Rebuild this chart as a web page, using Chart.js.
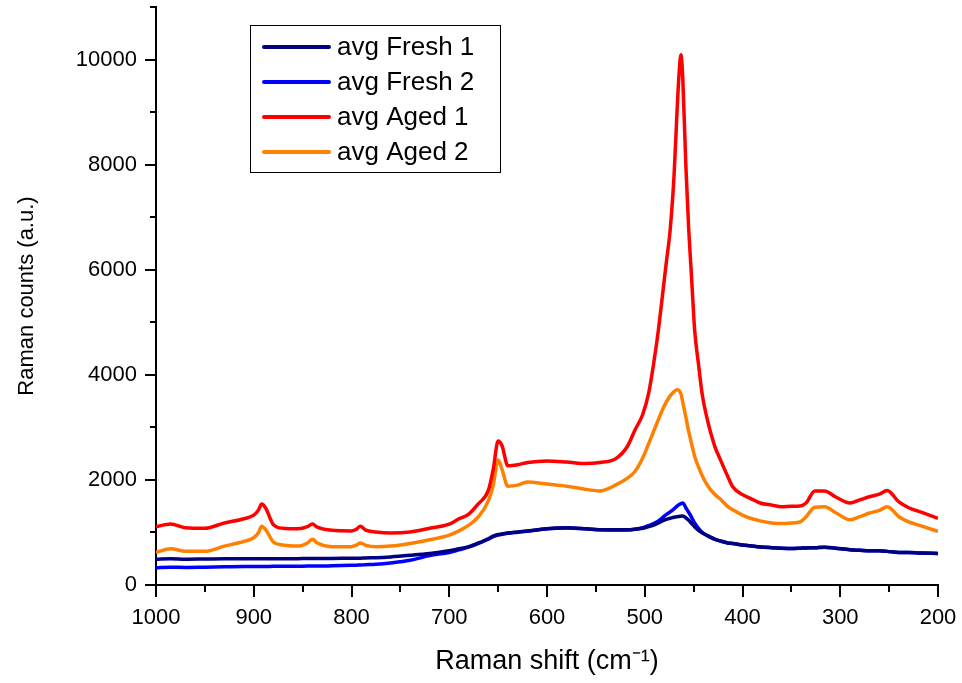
<!DOCTYPE html>
<html>
<head>
<meta charset="utf-8">
<script src="https://cdn.jsdelivr.net/npm/chart.js@4.4.1/dist/chart.umd.min.js"></script>
<style>
  html, body { margin: 0; padding: 0; background: #fff; }
  #wrap { width: 962px; height: 683px; position: relative; }
</style>
</head>
<body>
<div id="wrap"><canvas id="ramanChart"></canvas></div>
<script>
// Raman shift positions (cm-1) shared by all spectra
const shift = [
  1000, 985, 970, 950, 930, 910, 900, 895, 892, 888,
  880, 870, 855, 845, 840, 835, 820, 800, 795, 791,
  786, 775, 760, 740, 720, 700,
  690, 680, 670, 660, 655, 650, 646, 640, 630, 620,
  600, 580, 560, 546, 530, 518, 510, 502, 496, 491,
  486, 482, 478, 474, 470, 467, 465, 463, 461, 458,
  455, 453, 451, 449, 445, 441, 436, 433, 428, 423,
  415, 410, 400, 392, 382, 370, 360, 350, 341, 335,
  326, 316, 305, 290, 280, 270, 260, 252, 240, 230,
  218, 200];

const fresh1 = [
  490, 500, 490, 495, 500, 500, 500, 500, 500, 500,
  500, 500, 500, 505, 505, 505, 505, 510, 510, 510,
  515, 520, 535, 565, 600, 650,
  690, 730, 800, 880, 930, 960, 970, 990, 1010, 1030,
  1070, 1090, 1070, 1050, 1050, 1050, 1060, 1080, 1110, 1140,
  1180, 1220, 1250, 1270, 1290, 1300, 1305, 1310, 1315, 1280,
  1230, 1190, 1150, 1110, 1040, 990, 940, 910, 870, 840,
  800, 790, 760, 745, 725, 710, 700, 695, 700, 705,
  710, 720, 700, 670, 660, 650, 650, 640, 620, 620,
  610, 600];

const fresh2 = [
  330, 340, 335, 340, 345, 350, 350, 350, 350, 350,
  355, 355, 355, 360, 360, 360, 365, 375, 378, 380,
  385, 395, 420, 470, 560, 620,
  670, 720, 790, 870, 920, 950, 965, 985, 1005, 1025,
  1070, 1085, 1070, 1050, 1045, 1045, 1060, 1090, 1130, 1170,
  1220, 1280, 1340, 1390, 1450, 1500, 1530, 1550, 1560, 1470,
  1380, 1320, 1250, 1180, 1080, 1000, 940, 910, 870, 840,
  800, 790, 760, 745, 725, 710, 700, 695, 700, 705,
  710, 720, 700, 670, 660, 650, 650, 640, 620, 620,
  610, 600];

const aged1 = [
  1110, 1160, 1090, 1080, 1180, 1260, 1330, 1430, 1540, 1470,
  1150, 1080, 1070, 1110, 1160, 1100, 1040, 1030, 1060, 1120,
  1050, 1010, 990, 1010, 1080, 1160,
  1260, 1350, 1550, 1800, 2200, 2740, 2650, 2270, 2290, 2330,
  2360, 2340, 2310, 2330, 2400, 2630, 2950, 3250, 3650, 4200,
  4860, 5490, 6130, 6760, 7800, 9000, 9700, 10090, 9600, 8000,
  6760, 6130, 5490, 4860, 4200, 3600, 3150, 2930, 2620, 2400,
  2060, 1870, 1720, 1650, 1560, 1520, 1490, 1500, 1505, 1560,
  1790, 1790, 1680, 1560, 1620, 1680, 1730, 1800, 1580, 1470,
  1390, 1270];

const aged2 = [
  620, 690, 640, 640, 740, 830, 900, 1000, 1120, 1060,
  820, 760, 740, 800, 870, 800, 730, 730, 760, 800,
  760, 730, 740, 790, 860, 950,
  1030, 1140, 1300, 1600, 1900, 2380, 2200, 1880, 1900, 1960,
  1920, 1880, 1820, 1790, 1900, 2030, 2160, 2420, 2690, 2920,
  3150, 3330, 3480, 3600, 3680, 3715, 3700, 3640, 3470, 3200,
  2920, 2760, 2600, 2450, 2250, 2070, 1900, 1820, 1720, 1640,
  1490, 1430, 1330, 1270, 1220, 1180, 1170, 1180, 1200, 1300,
  1480, 1490, 1380, 1240, 1300, 1370, 1420, 1490, 1300, 1200,
  1130, 1020];

const seriesNames = ['avg Fresh 1', 'avg Fresh 2', 'avg Aged 1', 'avg Aged 2'];
const seriesColors = ['#000080', '#0000ff', '#ff0000', '#ff8000'];
const xTickLabels = [1000, 900, 800, 700, 600, 500, 400, 300, 200];
const yTickLabels = [0, 2000, 4000, 6000, 8000, 10000];

const fontFamily = '"Liberation Sans", Arial, sans-serif';

function toPoints(values) {
  return values.map((v, i) => ({ x: shift[i], y: v }));
}

// outward major/minor ticks, Origin style
const tickMarks = {
  id: 'tickMarks',
  afterDraw(chart) {
    const ctx = chart.ctx;
    const xs = chart.scales.x, ys = chart.scales.y;
    const area = chart.chartArea;
    ctx.save();
    ctx.strokeStyle = '#000';
    ctx.lineWidth = 2;
    xs.ticks.forEach(t => {
      const px = Math.round(xs.getPixelForValue(t.value));
      const len = xTickLabels.includes(t.value) ? 12 : 7;
      ctx.beginPath();
      ctx.moveTo(px, area.bottom);
      ctx.lineTo(px, area.bottom + len);
      ctx.stroke();
    });
    ys.ticks.forEach(t => {
      const py = Math.round(ys.getPixelForValue(t.value));
      const len = yTickLabels.includes(t.value) ? 11 : 6;
      ctx.beginPath();
      ctx.moveTo(area.left, py);
      ctx.lineTo(area.left - len, py);
      ctx.stroke();
    });
    ctx.restore();
  }
};

// boxed legend inside the plot, upper left
const boxLegend = {
  id: 'boxLegend',
  afterDraw(chart) {
    const ctx = chart.ctx;
    const area = chart.chartArea;
    const bx = area.left + 94, by = area.top + 18, bw = 250, bh = 147;
    ctx.save();
    ctx.fillStyle = '#fff';
    ctx.fillRect(bx, by, bw, bh);
    ctx.strokeStyle = '#000';
    ctx.lineWidth = 1;
    ctx.strokeRect(bx + 0.5, by + 0.5, bw, bh);
    ctx.font = '26px ' + fontFamily;
    ctx.textBaseline = 'middle';
    chart.data.datasets.forEach((ds, i) => {
      const cy = by + 22 + i * 35;
      ctx.strokeStyle = ds.borderColor;
      ctx.lineWidth = 4;
      ctx.lineCap = 'round';
      ctx.beginPath();
      ctx.moveTo(bx + 14, cy);
      ctx.lineTo(bx + 79, cy);
      ctx.stroke();
      ctx.fillStyle = '#000';
      ctx.fillText(ds.label, bx + 87, cy + 1);
    });
    ctx.restore();
  }
};

const ctx = document.getElementById('ramanChart');

new Chart(ctx, {
  type: 'line',
  data: {
    datasets: seriesNames.map((name, i) => ({
      label: name,
      data: toPoints([fresh1, fresh2, aged1, aged2][i]),
      borderColor: seriesColors[i],
      borderWidth: 3.5,
      pointRadius: 0,
      cubicInterpolationMode: 'monotone',
      fill: false
    }))
  },
  options: {
    responsive: true,
    maintainAspectRatio: false,
    animation: false,
    layout: { padding: { left: 0, right: 24, top: 7, bottom: 0 } },
    plugins: {
      legend: { display: false },
      tooltip: { enabled: false }
    },
    scales: {
      x: {
        type: 'linear',
        min: 200,
        max: 1000,
        reverse: true,
        afterFit(s) { s.height = 98; s.paddingLeft = 0; s.paddingRight = 0; },
        grid: { display: false },
        border: { display: true, color: '#000', width: 2 },
        ticks: {
          stepSize: 50,
          padding: 12,
          color: '#000',
          font: { family: fontFamily, size: 22 },
          maxRotation: 0,
          autoSkip: false,
          callback: v => xTickLabels.includes(v) ? String(v) : ''
        },
        title: {
          display: true,
          text: 'Raman shift (cm\u207B\u00B9)',
          color: '#000',
          font: { family: fontFamily, size: 27 },
          padding: { top: 0, bottom: 5 }
        }
      },
      y: {
        min: 0,
        max: 11000,
        afterFit(s) { s.width = 156; s.paddingTop = 0; s.paddingBottom = 0; },
        grid: { display: false, drawTicks: false },
        border: { display: true, color: '#000', width: 2 },
        ticks: {
          stepSize: 1000,
          padding: 19,
          color: '#000',
          font: { family: fontFamily, size: 22 },
          autoSkip: false,
          callback: v => yTickLabels.includes(v) ? String(v) : ''
        },
        title: {
          display: true,
          text: 'Raman counts (a.u.)',
          color: '#000',
          font: { family: fontFamily, size: 22 },
          padding: { top: 14, bottom: 0 }
        }
      }
    }
  },
  plugins: [tickMarks, boxLegend]
});
</script>
</body>
</html>
